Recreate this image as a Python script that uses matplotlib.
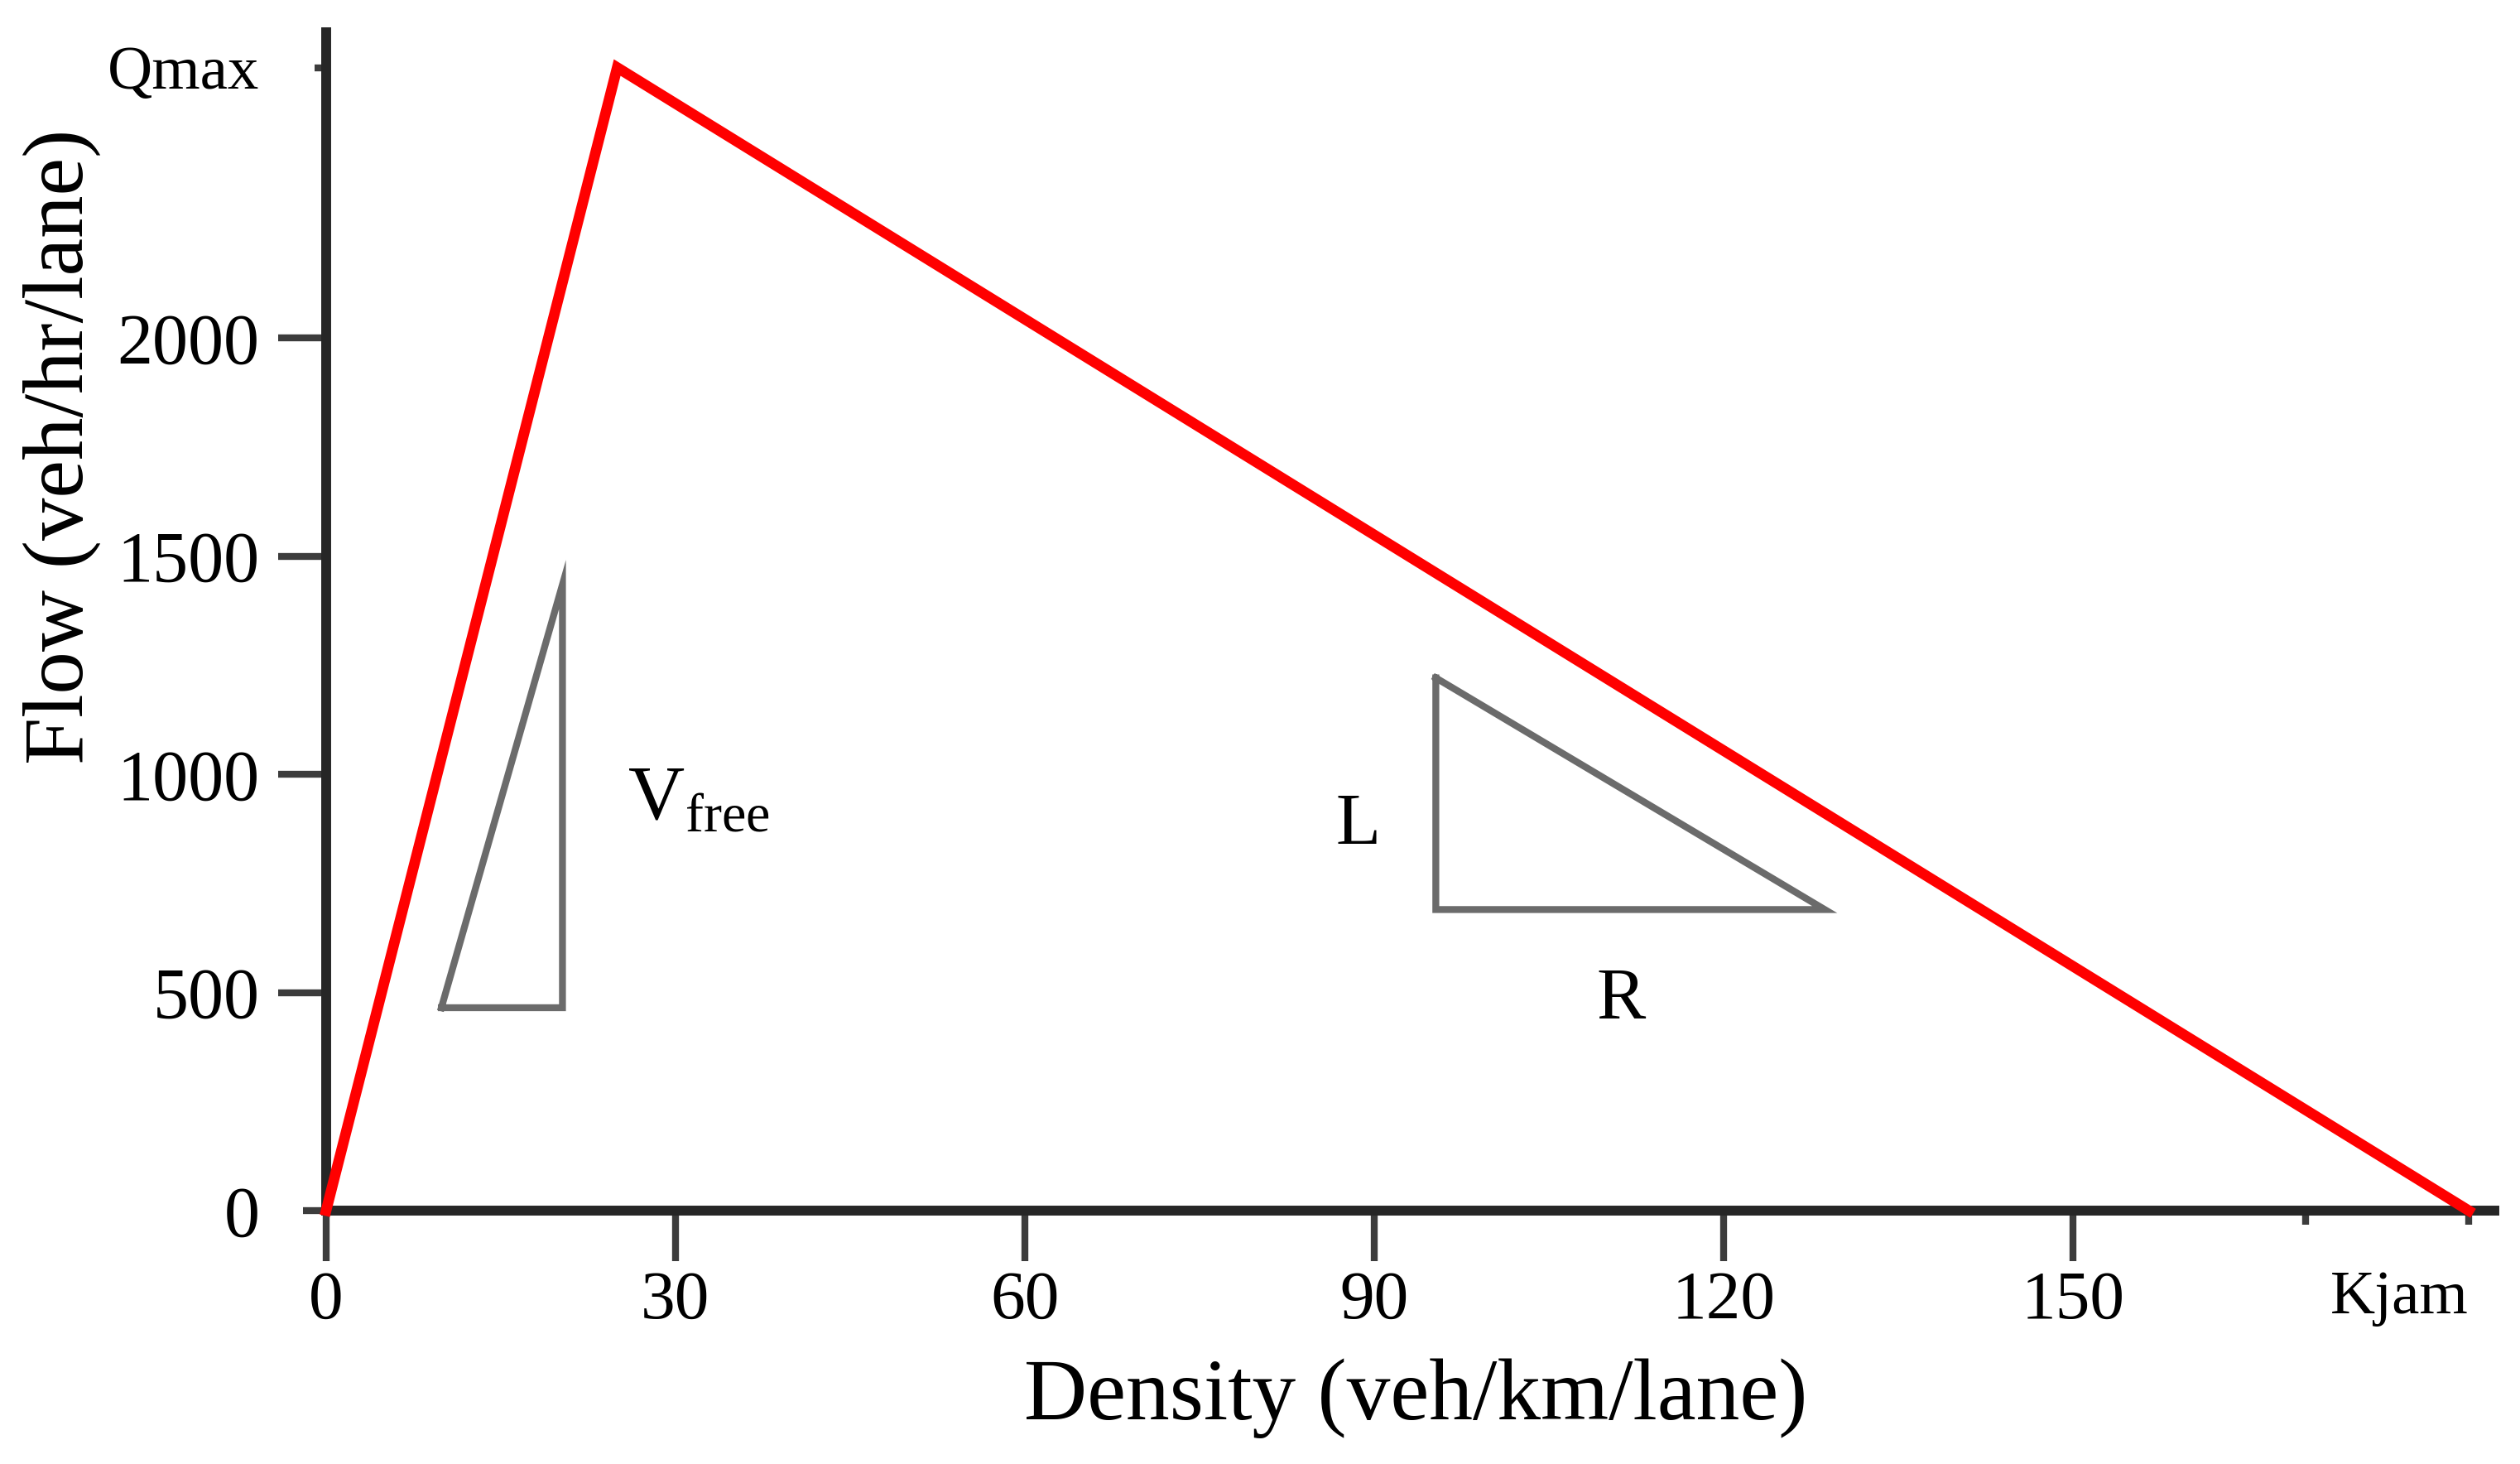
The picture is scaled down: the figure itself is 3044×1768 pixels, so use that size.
import matplotlib.pyplot as plt

plt.rcParams['font.family'] = ['Liberation Serif', 'DejaVu Serif']
plt.rcParams['mathtext.fontset'] = 'custom'
plt.rcParams['mathtext.rm'] = 'Liberation Serif'

# triangular fundamental diagram: origin, critical point, jam density
density = [0, 25, 184]
flow = [0, 2620, 0]

x_ticks = [0, 30, 60, 90, 120, 150]
y_ticks = [0, 500, 1000, 1500, 2000]
k_extra = 170
k_jam = 184
q_max = 2620

# slope sketches (free-flow speed and wave speed)
free_tri_x = [9.9, 20.3, 20.3, 9.9]
free_tri_y = [465, 465, 1435, 465]
cong_tri_x = [95.3, 95.3, 128.7, 95.3]
cong_tri_y = [1221, 690, 690, 1221]

fig = plt.figure(figsize=(15.22, 8.84), dpi=200)
ax = fig.add_axes([0.1294, 0.1731, 0.8604, 0.8049])

ax.plot(density, flow, color='#ff0000', lw=4.6, solid_joinstyle='miter',
        zorder=4, clip_on=False)
ax.plot(free_tri_x, free_tri_y, color='#6b6b6b', lw=3, solid_joinstyle='miter')
ax.plot(cong_tri_x, cong_tri_y, color='#6b6b6b', lw=3, solid_joinstyle='miter')

ax.text(25.9, 897, r'$\mathrm{V}_{\mathrm{free}}$', fontsize=34, ha='left', va='baseline')
ax.text(88.6, 882, 'L', fontsize=32, ha='center', va='center')
ax.text(111.2, 483, 'R', fontsize=32, ha='center', va='center')

ax.set_xlim(0, 186.2)
ax.set_ylim(0, 2701)

ax.spines[['top', 'right']].set_visible(False)
for side in ['left', 'bottom']:
    ax.spines[side].set_linewidth(4.3)
    ax.spines[side].set_color('#262626')

ax.set_xticks(x_ticks)
ax.set_yticks(y_ticks)
ax.set_xticks([k_extra, k_jam], labels=['', 'Kjam'], minor=True, ha='right')
ax.set_yticks([q_max], labels=['Qmax'], minor=True)

ax.tick_params(axis='x', which='major', direction='out', length=22, width=3,
               color='#3c3c3c', pad=4, labelsize=30)
ax.tick_params(axis='y', which='major', direction='out', length=21, width=3,
               color='#3c3c3c', pad=8, labelsize=31)
ax.tick_params(axis='x', which='minor', direction='out', length=6, width=3,
               color='#3c3c3c', pad=20, labelsize=27)
ax.tick_params(axis='y', which='minor', direction='out', length=5, width=3,
               color='#3c3c3c', pad=24, labelsize=27)
# the zero tick on the flow axis is drawn shorter
ax.yaxis.get_major_ticks()[0].tick1line.set_markersize(10)

ax.set_xlabel('Density (veh/km/lane)', fontsize=38, va='center')
ax.xaxis.set_label_coords(0.5025, -0.1595)
ax.set_ylabel('Flow (veh/hr/lane)', fontsize=37, va='center')
ax.yaxis.set_label_coords(-0.122, 0.648)

fig.savefig('out.png', dpi=200)
plt.close('all')
